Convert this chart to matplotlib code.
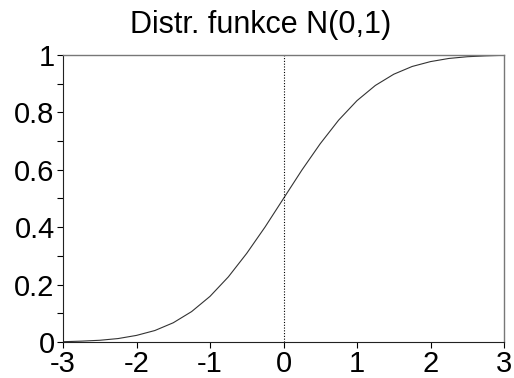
import numpy as np
import matplotlib
matplotlib.use("Agg")
import matplotlib.pyplot as plt
from matplotlib.ticker import MultipleLocator

# standard normal CDF sampled every 0.25
x_vals = [-3.0, -2.75, -2.5, -2.25, -2.0, -1.75, -1.5, -1.25, -1.0, -0.75, -0.5, -0.25,
          0.0, 0.25, 0.5, 0.75, 1.0, 1.25, 1.5, 1.75, 2.0, 2.25, 2.5, 2.75, 3.0]
cdf_vals = [0.001, 0.003, 0.006, 0.012, 0.023, 0.040, 0.067, 0.106, 0.159, 0.227, 0.309, 0.401,
            0.500, 0.599, 0.691, 0.773, 0.841, 0.894, 0.933, 0.960, 0.977, 0.988, 0.994, 0.997, 0.999]
x_ticks = [-3, -2, -1, 0, 1, 2, 3]
y_ticks = [0, 0.2, 0.4, 0.6, 0.8, 1]
y_tick_labels = ["0", "0.2", "0.4", "0.6", "0.8", "1"]
title = "Distr. funkce N(0,1)"

plt.rcParams['font.family'] = ['Liberation Sans', 'DejaVu Sans']

fig = plt.figure(figsize=(5.14, 3.78), dpi=100)
ax = fig.add_axes([63 / 514, 36 / 378, 441 / 514, 287 / 378])

ax.plot(x_vals, cdf_vals, color='#333333', lw=0.8)
ax.axvline(0, color='black', lw=0.8, ls=(0, (1, 1.5)))

ax.set_xlim(-3, 3)
ax.set_ylim(0, 1)
ax.set_xticks(x_ticks)
ax.set_xticklabels([str(t) for t in x_ticks])
ax.set_yticks(y_ticks)
ax.set_yticklabels(y_tick_labels)
ax.yaxis.set_minor_locator(MultipleLocator(0.1))

ax.tick_params(which='major', direction='out', length=4, width=0.8, labelsize=21, pad=2)
ax.tick_params(which='minor', axis='y', direction='out', length=4, width=0.8)
for side in ['top', 'right']:
    ax.spines[side].set_color('#777777')
    ax.spines[side].set_linewidth(1.0)
for side in ['left', 'bottom']:
    ax.spines[side].set_color('#222222')
    ax.spines[side].set_linewidth(0.8)

fig.text(261 / 514, 1 - 33 / 378, title, fontsize=22, ha='center', va='baseline')

fig.savefig("out.png", dpi=100, facecolor='white')
